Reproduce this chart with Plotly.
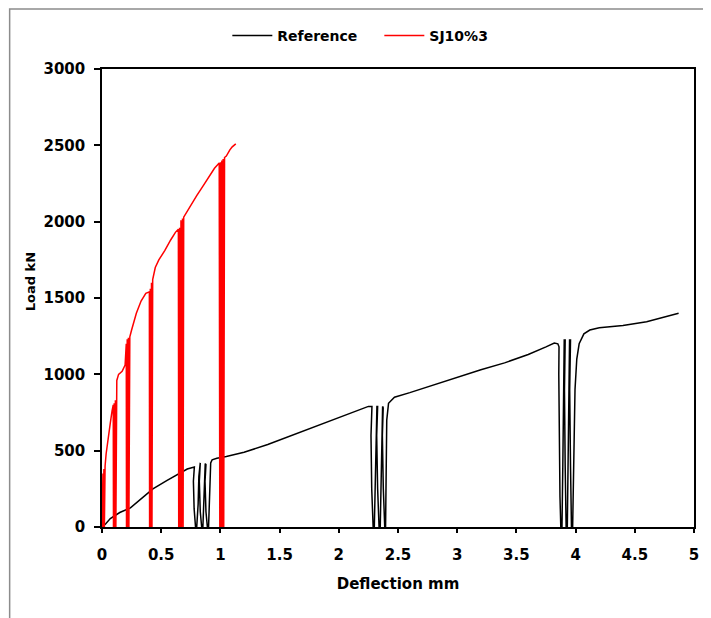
import plotly.graph_objects as go

# Reference specimen: deflection (mm) and load (kN), with unload/reload cycles
ref_x = [0, 0.03, 0.07, 0.15, 0.24, 0.33, 0.43, 0.55, 0.65, 0.72, 0.78,
         0.772, 0.778, 0.79, 0.80, 0.812, 0.818, 0.825,
         0.83, 0.822, 0.83, 0.842, 0.852, 0.86, 0.866, 0.872,
         0.878, 0.87, 0.878, 0.89, 0.90, 0.906, 0.912, 0.918,
         0.93, 0.97, 1.05, 1.2, 1.4, 1.6, 1.8, 2.0, 2.15, 2.25, 2.28,
         2.272, 2.278, 2.29, 2.30, 2.31, 2.316, 2.322,
         2.328, 2.32, 2.328, 2.34, 2.35, 2.358, 2.364, 2.37,
         2.375, 2.368, 2.376, 2.388, 2.395, 2.40, 2.405, 2.42, 2.47,
         2.6, 2.8, 3.0, 3.2, 3.4, 3.6, 3.75, 3.82, 3.85,
         3.86, 3.858, 3.862, 3.868, 3.875, 3.885, 3.892, 3.898, 3.904,
         3.912, 3.906, 3.912, 3.92, 3.93, 3.937, 3.943, 3.949,
         3.957, 3.95, 3.957, 3.965, 3.975, 3.985, 3.995, 4.01, 4.03,
         4.07, 4.12, 4.2, 4.4, 4.6, 4.75, 4.87]
ref_y = [0, 20, 55, 95, 125, 185, 250, 305, 350, 380, 393,
         300, 120, 0, 0, 150, 330, 420,
         420, 300, 100, 0, 0, 200, 380, 415,
         410, 300, 100, 0, 0, 200, 380, 420,
         440, 450, 462, 490, 540, 600, 660, 720, 765, 790, 790,
         600, 250, 0, 0, 300, 650, 790,
         790, 600, 250, 0, 0, 300, 650, 790,
         780, 600, 250, 0, 0, 400, 700, 810, 850,
         880, 930, 985, 1030, 1075, 1130, 1180, 1205, 1200,
         1180, 1000, 600, 200, 0, 0, 400, 900, 1225,
         1225, 900, 400, 0, 0, 500, 1000, 1225,
         1225, 900, 400, 0, 0, 500, 900, 1100, 1200,
         1265, 1290, 1305, 1320, 1345, 1375, 1400]

# SJ10%3 specimen
sj_x = [0, 0.004, 0.008,
        0.010, 0.016, 0.020, 0.026,
        0.035, 0.05, 0.07, 0.085, 0.095,
        0.097, 0.103, 0.107, 0.113, 0.117, 0.121,
        0.125, 0.14, 0.17, 0.195, 0.205,
        0.207, 0.213, 0.217, 0.223, 0.227, 0.235,
        0.25, 0.29, 0.33, 0.37, 0.40,
        0.402, 0.408, 0.412, 0.418, 0.422, 0.428,
        0.45, 0.48, 0.53, 0.58, 0.62, 0.645,
        0.648, 0.655, 0.66, 0.667, 0.672, 0.68, 0.685, 0.69,
        0.75, 0.80, 0.85, 0.90, 0.95, 0.99,
        0.995, 1.0, 1.005, 1.012, 1.017, 1.023, 1.028, 1.035,
        1.05, 1.08, 1.10, 1.13]
sj_y = [0, 200, 350,
        0, 380, 0, 400,
        480, 580, 680, 760, 800,
        0, 810, 0, 830, 0, 840,
        960, 1000, 1020, 1060, 1200,
        0, 1230, 0, 1240, 0, 1245,
        1290, 1400, 1480, 1530, 1540,
        0, 1560, 0, 1600, 0, 1620,
        1700, 1750, 1810, 1880, 1930, 1950,
        0, 1960, 0, 2010, 0, 2020, 0, 2030,
        2110, 2170, 2230, 2290, 2350, 2385,
        0, 2390, 0, 2400, 0, 2410, 0, 2420,
        2430, 2470, 2490, 2510]

x_ticks = [0, 0.5, 1, 1.5, 2, 2.5, 3, 3.5, 4, 4.5, 5]
x_labels = ["0", "0.5", "1", "1.5", "2", "2.5", "3", "3.5", "4", "4.5", "5"]
y_ticks = [0, 500, 1000, 1500, 2000, 2500, 3000]

FONT = "DejaVu Sans"

fig = go.Figure()
fig.add_trace(go.Scatter(x=ref_x, y=ref_y, mode="lines", name="Reference",
                         line=dict(color="black", width=1.5)))
fig.add_trace(go.Scatter(x=sj_x, y=sj_y, mode="lines", name="SJ10%3",
                         line=dict(color="#ff0000", width=1.5)))

axis_common = dict(showgrid=False, zeroline=False, showline=True, mirror=True,
                   linecolor="black", linewidth=1.5, ticks="outside",
                   tickcolor="black", tickwidth=1.5,
                   tickfont=dict(family=FONT, size=15, color="black", weight="bold"))

fig.update_xaxes(range=[0, 5], tickvals=x_ticks, ticktext=x_labels, ticklen=4,
                 ticklabelstandoff=9,
                 title=dict(text="Deflection mm", standoff=16,
                            font=dict(family=FONT, size=15, color="black", weight="bold")),
                 **axis_common)
fig.update_yaxes(range=[0, 3000], tickvals=y_ticks, ticklen=6,
                 ticklabelstandoff=6,
                 **axis_common)

# y-axis title placed as annotation (sits slightly above the plot centre)
fig.add_annotation(text="Load kN", textangle=-90, xref="paper", yref="paper",
                   x=-0.1195, y=0.535, xanchor="center", yanchor="middle",
                   showarrow=False,
                   font=dict(family=FONT, size=13, color="black", weight="bold"))

# outer chart frame
fig.add_shape(type="rect", xref="paper", yref="paper",
              x0=-0.156, x1=1.05, y0=-0.25, y1=1.1310,
              line=dict(color="#8c8c8c", width=1.5), layer="below")

fig.update_layout(
    width=703, height=610,
    margin=dict(l=94, r=14, t=61, b=91),
    paper_bgcolor="white", plot_bgcolor="white",
    font=dict(family=FONT, size=14, color="black", weight="bold"),
    showlegend=True,
    legend=dict(orientation="h", x=0.2117, xanchor="left", y=1.072, yanchor="middle",
                font=dict(family=FONT, size=14, color="black", weight="bold"),
                bgcolor="rgba(0,0,0,0)", itemwidth=40, entrywidth=97),
)

fig.write_html("out.html")
